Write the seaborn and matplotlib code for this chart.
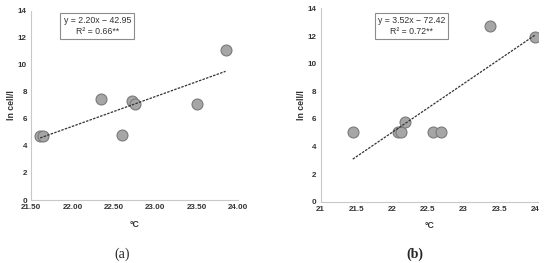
import matplotlib
matplotlib.use("Agg")
import matplotlib.pyplot as plt
import seaborn as sns
import numpy as np
import pandas as pd

# Panel (a)
temp_a = [21.61, 21.65, 22.34, 22.60, 22.72, 22.75, 23.50, 23.85]
lncell_a = [4.76, 4.76, 7.45, 4.78, 7.30, 7.08, 7.12, 11.09]
slope_a, intercept_a = 2.20, -42.95
eq_a = "y = 2.20x − 42.95\nR² = 0.66**"
xticks_a = [21.50, 22.00, 22.50, 23.00, 23.50, 24.00]
xticklabels_a = ["21.50", "22.00", "22.50", "23.00", "23.50", "24.00"]

# Panel (b)
temp_b = [21.45, 22.08, 22.12, 22.18, 22.57, 22.68, 23.37, 24.00]
lncell_b = [5.04, 5.04, 5.04, 5.77, 5.04, 5.04, 12.74, 11.95]
slope_b, intercept_b = 3.52, -72.42
eq_b = "y = 3.52x − 72.42\nR² = 0.72**"
xticks_b = [21, 21.5, 22, 22.5, 23, 23.5, 24]
xticklabels_b = ["21", "21.5", "22", "22.5", "23", "23.5", "24"]

yticks = [0, 2, 4, 6, 8, 10, 12, 14]

sns.set_theme(style="white")
plt.rcParams['font.family'] = ['Liberation Sans', 'DejaVu Sans']

fig = plt.figure(figsize=(5.5, 2.63), dpi=100)
ax_a = fig.add_axes([0.0564, 0.2395, 0.3763, 0.7195])
ax_b = fig.add_axes([0.583, 0.233, 0.396, 0.735])

def draw(ax, xs, ys, slope, intercept, eq, xticks, xlabels, xlim, box_xy):
    df = pd.DataFrame({"x": xs, "y": ys})
    xl = np.array([min(xs), max(xs)])
    ax.plot(xl, slope * xl + intercept, color="#333333", lw=0.9,
            linestyle=(0, (2, 1)), zorder=3)
    sns.scatterplot(data=df, x="x", y="y", ax=ax, s=62, color="#a6a6a6",
                    edgecolor="#7a7a7a", linewidth=0.8, zorder=2)
    ax.set_xlim(*xlim)
    ax.set_ylim(0, 14)
    ax.set_xticks(xticks)
    ax.set_xticklabels(xlabels)
    ax.set_yticks(yticks)
    ax.tick_params(axis="both", length=0, labelsize=5.8, pad=3, colors="#333333")
    for lbl in ax.get_xticklabels() + ax.get_yticklabels():
        lbl.set_fontweight("bold")
    for s in ["top", "right"]:
        ax.spines[s].set_visible(False)
    for s in ["left", "bottom"]:
        ax.spines[s].set_color("#c8c8c8")
        ax.spines[s].set_linewidth(0.8)
    ax.set_xlabel("°C", fontsize=6.3, fontweight="bold", color="#333333", labelpad=6)
    ax.set_ylabel("ln cell/l", fontsize=6.3, fontweight="bold", color="#333333", labelpad=1)
    ax.text(box_xy[0], box_xy[1], eq, ha="center", va="center", fontsize=6.3,
            color="#333333", linespacing=1.2,
            bbox=dict(boxstyle="square,pad=0.35", fc="white", ec="#8c8c8c", lw=0.8))
    ax.grid(False)

draw(ax_a, temp_a, lncell_a, slope_a, intercept_a, eq_a, xticks_a, xticklabels_a,
     (21.5, 24.0), (22.30, 12.87))
draw(ax_b, temp_b, lncell_b, slope_b, intercept_b, eq_b, xticks_b, xticklabels_b,
     (21.0, 24.05), (22.27, 12.72))

fig.text(122 / 550, 1 - 254 / 263, "(a)", ha="center", va="center", fontsize=10,
         family="Liberation Serif")
fig.text(415 / 550, 1 - 254 / 263, "(b)", ha="center", va="center", fontsize=10,
         family="Liberation Serif", fontweight="bold")

fig.savefig("out.png", dpi=100)
